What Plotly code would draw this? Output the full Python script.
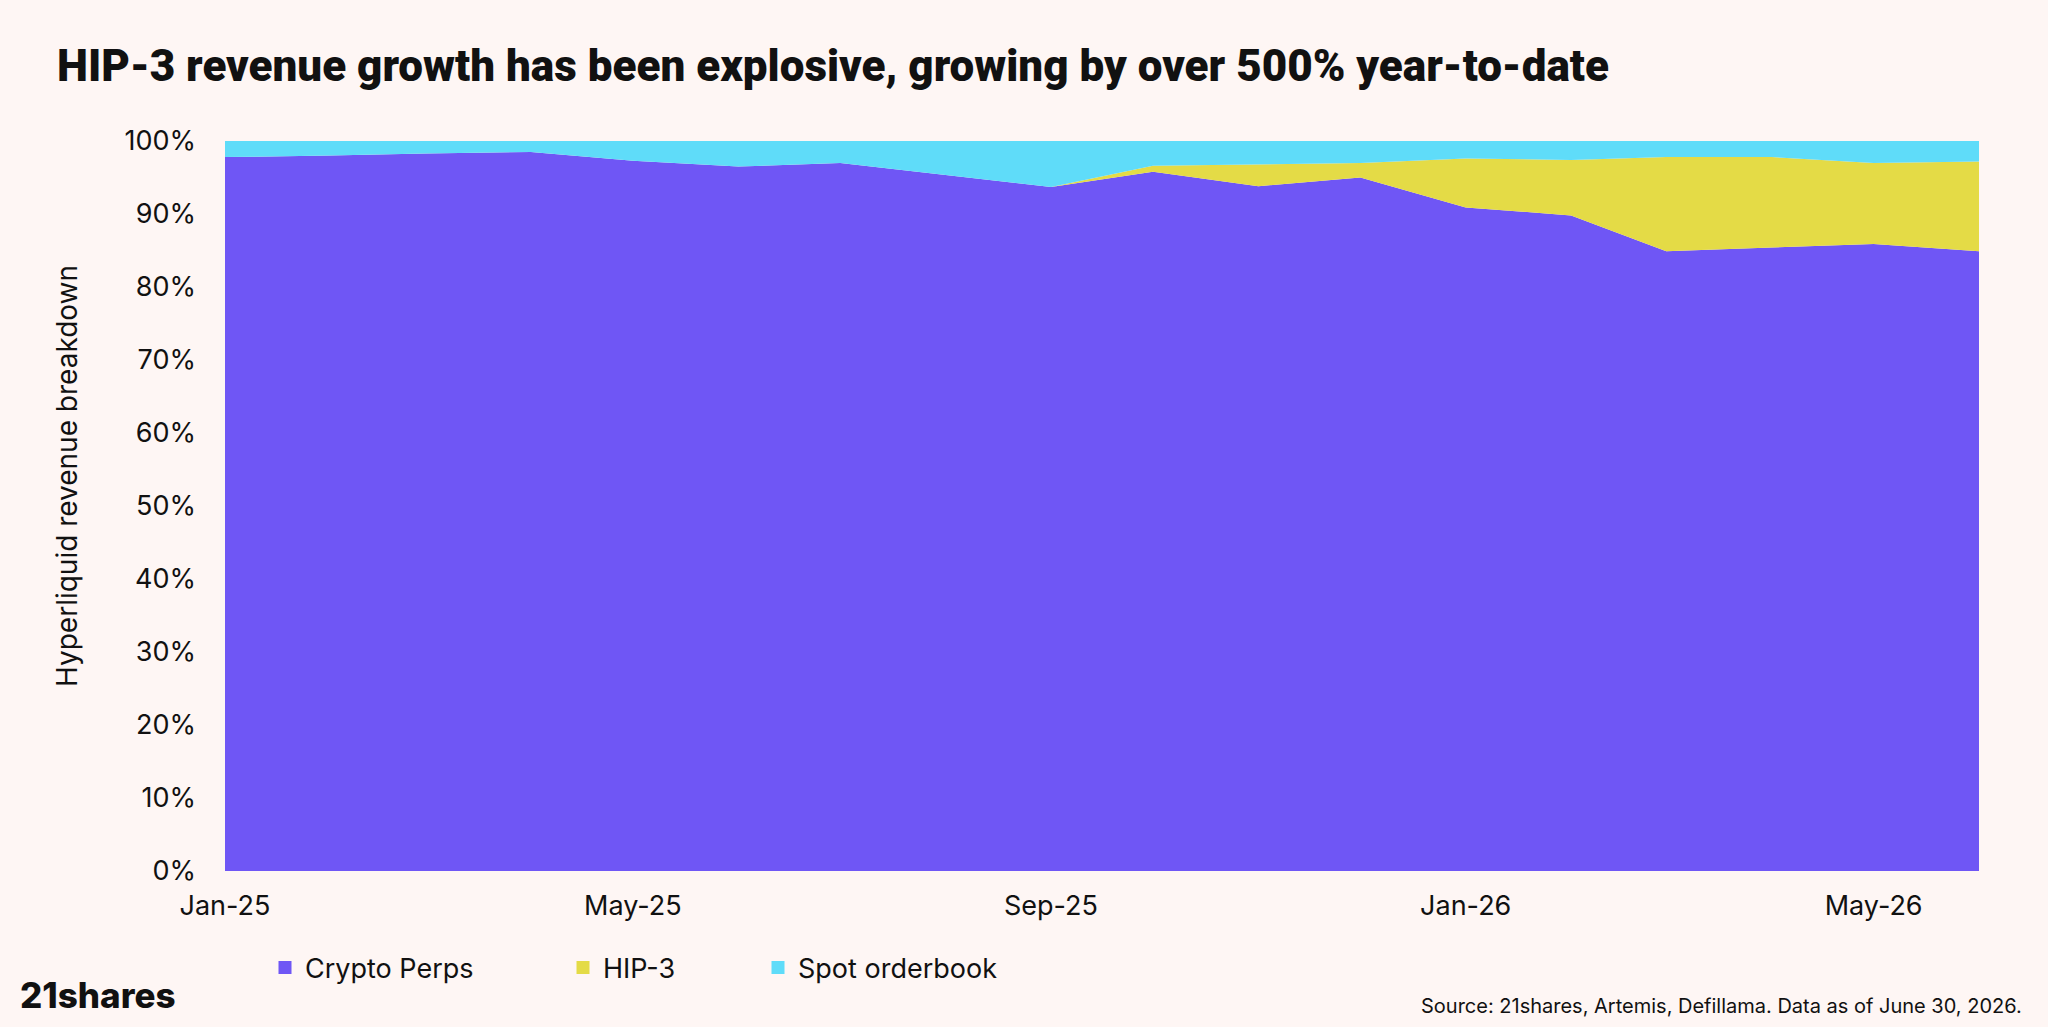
import plotly.graph_objects as go

# ---- data ----
months = ["2025-01-01", "2025-02-01", "2025-03-01", "2025-04-01", "2025-05-01", "2025-06-01",
          "2025-07-01", "2025-08-01", "2025-09-01", "2025-10-01", "2025-11-01", "2025-12-01",
          "2026-01-01", "2026-02-01", "2026-03-01", "2026-04-01", "2026-05-01", "2026-06-01"]
crypto_perps = [97.8, 98.0, 98.3, 98.5, 97.3, 96.5, 97.0, 95.3, 93.7, 95.8, 93.8, 95.0,
                90.9, 89.8, 84.9, 85.4, 85.9, 84.9]
hip3 = [0.0, 0.0, 0.0, 0.0, 0.0, 0.0, 0.0, 0.0, 0.0, 0.8, 3.0, 2.0,
        6.7, 7.6, 12.9, 12.4, 11.1, 12.3]
spot_orderbook = [round(100 - p - h, 2) for p, h in zip(crypto_perps, hip3)]

series_names = ["Crypto Perps", "HIP-3", "Spot orderbook"]
series_values = [crypto_perps, hip3, spot_orderbook]
series_colors = ["#6F56F5", "#E4DB46", "#5FDCF9"]

x_tickvals = ["2025-01-01", "2025-05-01", "2025-09-01", "2026-01-01", "2026-05-01"]
x_ticktext = ["Jan-25", "May-25", "Sep-25", "Jan-26", "May-26"]
y_tickvals = [0, 10, 20, 30, 40, 50, 60, 70, 80, 90, 100]
y_ticktext = ["0%", "10%", "20%", "30%", "40%", "50%", "60%", "70%", "80%", "90%", "100%"]

title_text = "HIP-3 revenue growth has been explosive, growing by over 500% year-to-date"
y_title = "Hyperliquid revenue breakdown"
source_text = "Source: 21shares, Artemis, Defillama. Data as of June 30, 2026."
logo_text = "21shares"

BG = "#FEF6F4"
INK = "#111111"
FONT = "Inter"
TITLE_FONT = "Roboto, Inter, sans-serif"

fig = go.Figure()

for name, vals, col in zip(series_names, series_values, series_colors):
    fig.add_trace(go.Scatter(
        x=months, y=vals, name=name, mode="lines",
        stackgroup="one", line=dict(width=0, color=col), fillcolor=col,
        showlegend=False, legendgroup=name,
    ))

legend_ids = ["legend", "legend2", "legend3"]
legend_x_px = [265, 563, 758]
for name, col, lid in zip(series_names, series_colors, legend_ids):
    fig.add_trace(go.Scatter(
        x=[None], y=[None], name=name, mode="markers",
        marker=dict(symbol="square", size=13, color=col),
        legendgroup=name, showlegend=True, legend=lid,
    ))

W, H = 2048, 1027
PL, PR, PT, PB = 225, 1979, 141, 871
legend_common = dict(orientation="h", yref="container", xref="container",
                     y=1 - 968 / H, yanchor="middle", xanchor="left",
                     bgcolor="rgba(0,0,0,0)", borderwidth=0,
                     font=dict(family=FONT, size=27, color=INK))

layout_legends = {}
for lid, xp in zip(legend_ids, legend_x_px):
    layout_legends[lid] = dict(legend_common, x=xp / W)

fig.update_layout(
    width=W, height=H, autosize=False,
    paper_bgcolor=BG, plot_bgcolor=BG,
    margin=dict(l=PL, r=W - PR, t=PT, b=H - PB),
    font=dict(family=FONT, color=INK),
    title=dict(text=title_text, x=57 / W, xanchor="left", xref="container",
               y=1 - 66 / H, yanchor="middle", yref="container",
               font=dict(family=TITLE_FONT, size=44, weight=900, color=INK)),
    xaxis=dict(type="date", range=["2025-01-01", "2026-06-01"],
               tickvals=x_tickvals, ticktext=x_ticktext,
               showgrid=False, zeroline=False, showline=False, ticks="",
               ticklabelstandoff=16,
               tickfont=dict(family=FONT, size=27, color=INK)),
    yaxis=dict(range=[0, 100], tickvals=y_tickvals, ticktext=y_ticktext,
               showgrid=False, zeroline=False, showline=False, ticks="",
               ticklabelstandoff=28,
               tickfont=dict(family=FONT, size=27, color=INK)),
    **layout_legends,
)

PW, PH = PR - PL, PB - PT
fig.add_annotation(text=y_title, xref="paper", yref="paper",
                   x=(67 - PL) / PW, y=(PB - 476) / PH, xanchor="center", yanchor="middle",
                   textangle=-90, showarrow=False,
                   font=dict(family=FONT, size=28, color=INK))
fig.add_annotation(text=logo_text, xref="paper", yref="paper",
                   x=(18 - PL) / PW, y=-(995 - PB) / PH, xanchor="left", yanchor="middle",
                   showarrow=False,
                   font=dict(family=FONT, size=35, weight=800, color=INK))
fig.add_annotation(text=source_text, xref="paper", yref="paper",
                   x=(2024 - PL) / PW, y=-(1006 - PB) / PH, xanchor="right", yanchor="middle",
                   showarrow=False,
                   font=dict(family=FONT, size=20, color=INK))

fig.write_html("out.html", config={"displayModeBar": False},
               post_script="document.body.style.margin='0';document.body.style.background='" + BG + "';")
